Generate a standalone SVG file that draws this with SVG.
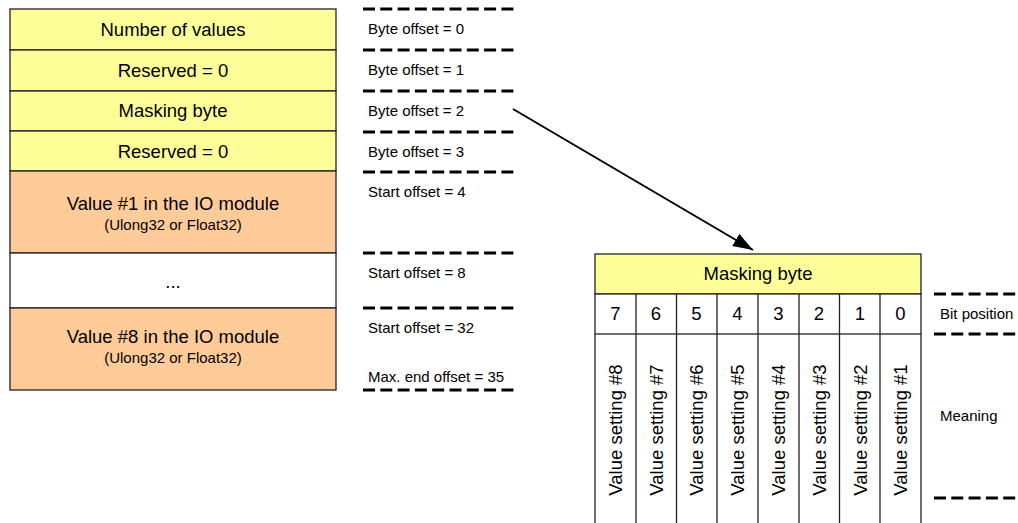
<svg xmlns="http://www.w3.org/2000/svg" width="1018" height="523" viewBox="0 0 1018 523">
<style>
.cell{stroke:#222;stroke-width:1.3}
.y{fill:#FFFF99}
.o{fill:#FFCC99}
.w{fill:#FFFFFF}
.t{font-family:"Liberation Sans",Arial,sans-serif;font-size:18.5px;fill:#000;text-anchor:middle}
.s{font-family:"Liberation Sans",Arial,sans-serif;font-size:15px;fill:#000;text-anchor:middle}
.l{font-family:"Liberation Sans",Arial,sans-serif;font-size:15px;fill:#000}
.v{font-family:"Liberation Sans",Arial,sans-serif;font-size:18.5px;fill:#000;text-anchor:middle}
.d{stroke:#000;stroke-width:3;stroke-dasharray:12 5.3;fill:none}
.ln{stroke:#222;stroke-width:1.3;fill:none}
</style>
<defs>
<marker id="ah" viewBox="0 0 20 14" refX="20" refY="7" markerWidth="20" markerHeight="14" markerUnits="userSpaceOnUse" orient="auto">
<path d="M0,0 L20,7 L0,14 Z" fill="#000"/>
</marker>
</defs>
<rect width="1018" height="523" fill="#fff"/>

<g id="left-table">
<g id="row-number"><rect class="cell y" x="10" y="9" width="326" height="41"/><text class="t" x="173" y="36">Number of values</text></g>
<g id="row-reserved1"><rect class="cell y" x="10" y="50" width="326" height="41"/><text class="t" x="173" y="77">Reserved = 0</text></g>
<g id="row-masking"><rect class="cell y" x="10" y="91" width="326" height="40"/><text class="t" x="173" y="117">Masking byte</text></g>
<g id="row-reserved2"><rect class="cell y" x="10" y="131" width="326" height="40"/><text class="t" x="173" y="158">Reserved = 0</text></g>
<g id="row-value1"><rect class="cell o" x="10" y="171" width="326" height="82"/><text class="t" x="173" y="210">Value #1 in the IO module</text><text class="s" x="173" y="230">(Ulong32 or Float32)</text></g>
<g id="row-dots"><rect class="cell w" x="10" y="253" width="326" height="55"/><text class="t" x="173" y="288">...</text></g>
<g id="row-value8"><rect class="cell o" x="10" y="308" width="326" height="82"/><text class="t" x="173" y="343">Value #8 in the IO module</text><text class="s" x="173" y="363">(Ulong32 or Float32)</text></g>
</g>

<g id="offsets">
<line class="d" x1="363" y1="9" x2="515" y2="9"/>
<text class="l" x="368" y="34">Byte offset = 0</text>
<line class="d" x1="363" y1="50" x2="515" y2="50"/>
<text class="l" x="368" y="75">Byte offset = 1</text>
<line class="d" x1="363" y1="91" x2="515" y2="91"/>
<text class="l" x="368" y="116">Byte offset = 2</text>
<line class="d" x1="363" y1="132" x2="515" y2="132"/>
<text class="l" x="368" y="157">Byte offset = 3</text>
<line class="d" x1="363" y1="172" x2="515" y2="172"/>
<text class="l" x="368" y="197">Start offset = 4</text>
<line class="d" x1="363" y1="253" x2="515" y2="253"/>
<text class="l" x="368" y="278">Start offset = 8</text>
<line class="d" x1="363" y1="308" x2="515" y2="308"/>
<text class="l" x="368" y="333">Start offset = 32</text>
<text class="l" x="368" y="382">Max. end offset = 35</text>
<line class="d" x1="363" y1="390" x2="515" y2="390"/>
</g>

<g id="connectors">
<line x1="513" y1="109" x2="753" y2="250" stroke="#000" stroke-width="2" marker-end="url(#ah)"/>
</g>

<g id="mask-table">
<rect class="cell y" x="595" y="254" width="326" height="40"/>
<text class="t" x="758" y="280">Masking byte</text>
<rect class="cell w" x="595" y="294" width="326" height="40"/>
<path class="ln" d="M595,334 V530 M921,334 V530 M636,294 V530 M676.5,294 V530 M717,294 V530 M758,294 V530 M799,294 V530 M839.5,294 V530 M880,294 V530"/>
<g id="bits">
<text class="t" x="615.5" y="320">7</text>
<text class="t" x="656" y="320">6</text>
<text class="t" x="696.5" y="320">5</text>
<text class="t" x="737.5" y="320">4</text>
<text class="t" x="778.5" y="320">3</text>
<text class="t" x="819" y="320">2</text>
<text class="t" x="860" y="320">1</text>
<text class="t" x="900.5" y="320">0</text>
</g>
<g id="meanings">
<text class="v" transform="translate(622,430) rotate(-90)">Value setting #8</text>
<text class="v" transform="translate(662.5,430) rotate(-90)">Value setting #7</text>
<text class="v" transform="translate(703,430) rotate(-90)">Value setting #6</text>
<text class="v" transform="translate(744,430) rotate(-90)">Value setting #5</text>
<text class="v" transform="translate(785,430) rotate(-90)">Value setting #4</text>
<text class="v" transform="translate(825.5,430) rotate(-90)">Value setting #3</text>
<text class="v" transform="translate(866.5,430) rotate(-90)">Value setting #2</text>
<text class="v" transform="translate(907,430) rotate(-90)">Value setting #1</text>
</g>
</g>

<g id="legend">
<line class="d" x1="934" y1="294" x2="1018" y2="294"/>
<text class="l" x="940" y="319">Bit position</text>
<line class="d" x1="934" y1="334" x2="1018" y2="334"/>
<text class="l" x="940" y="421">Meaning</text>
<line class="d" x1="934" y1="498" x2="1018" y2="498"/>
</g>
</svg>
